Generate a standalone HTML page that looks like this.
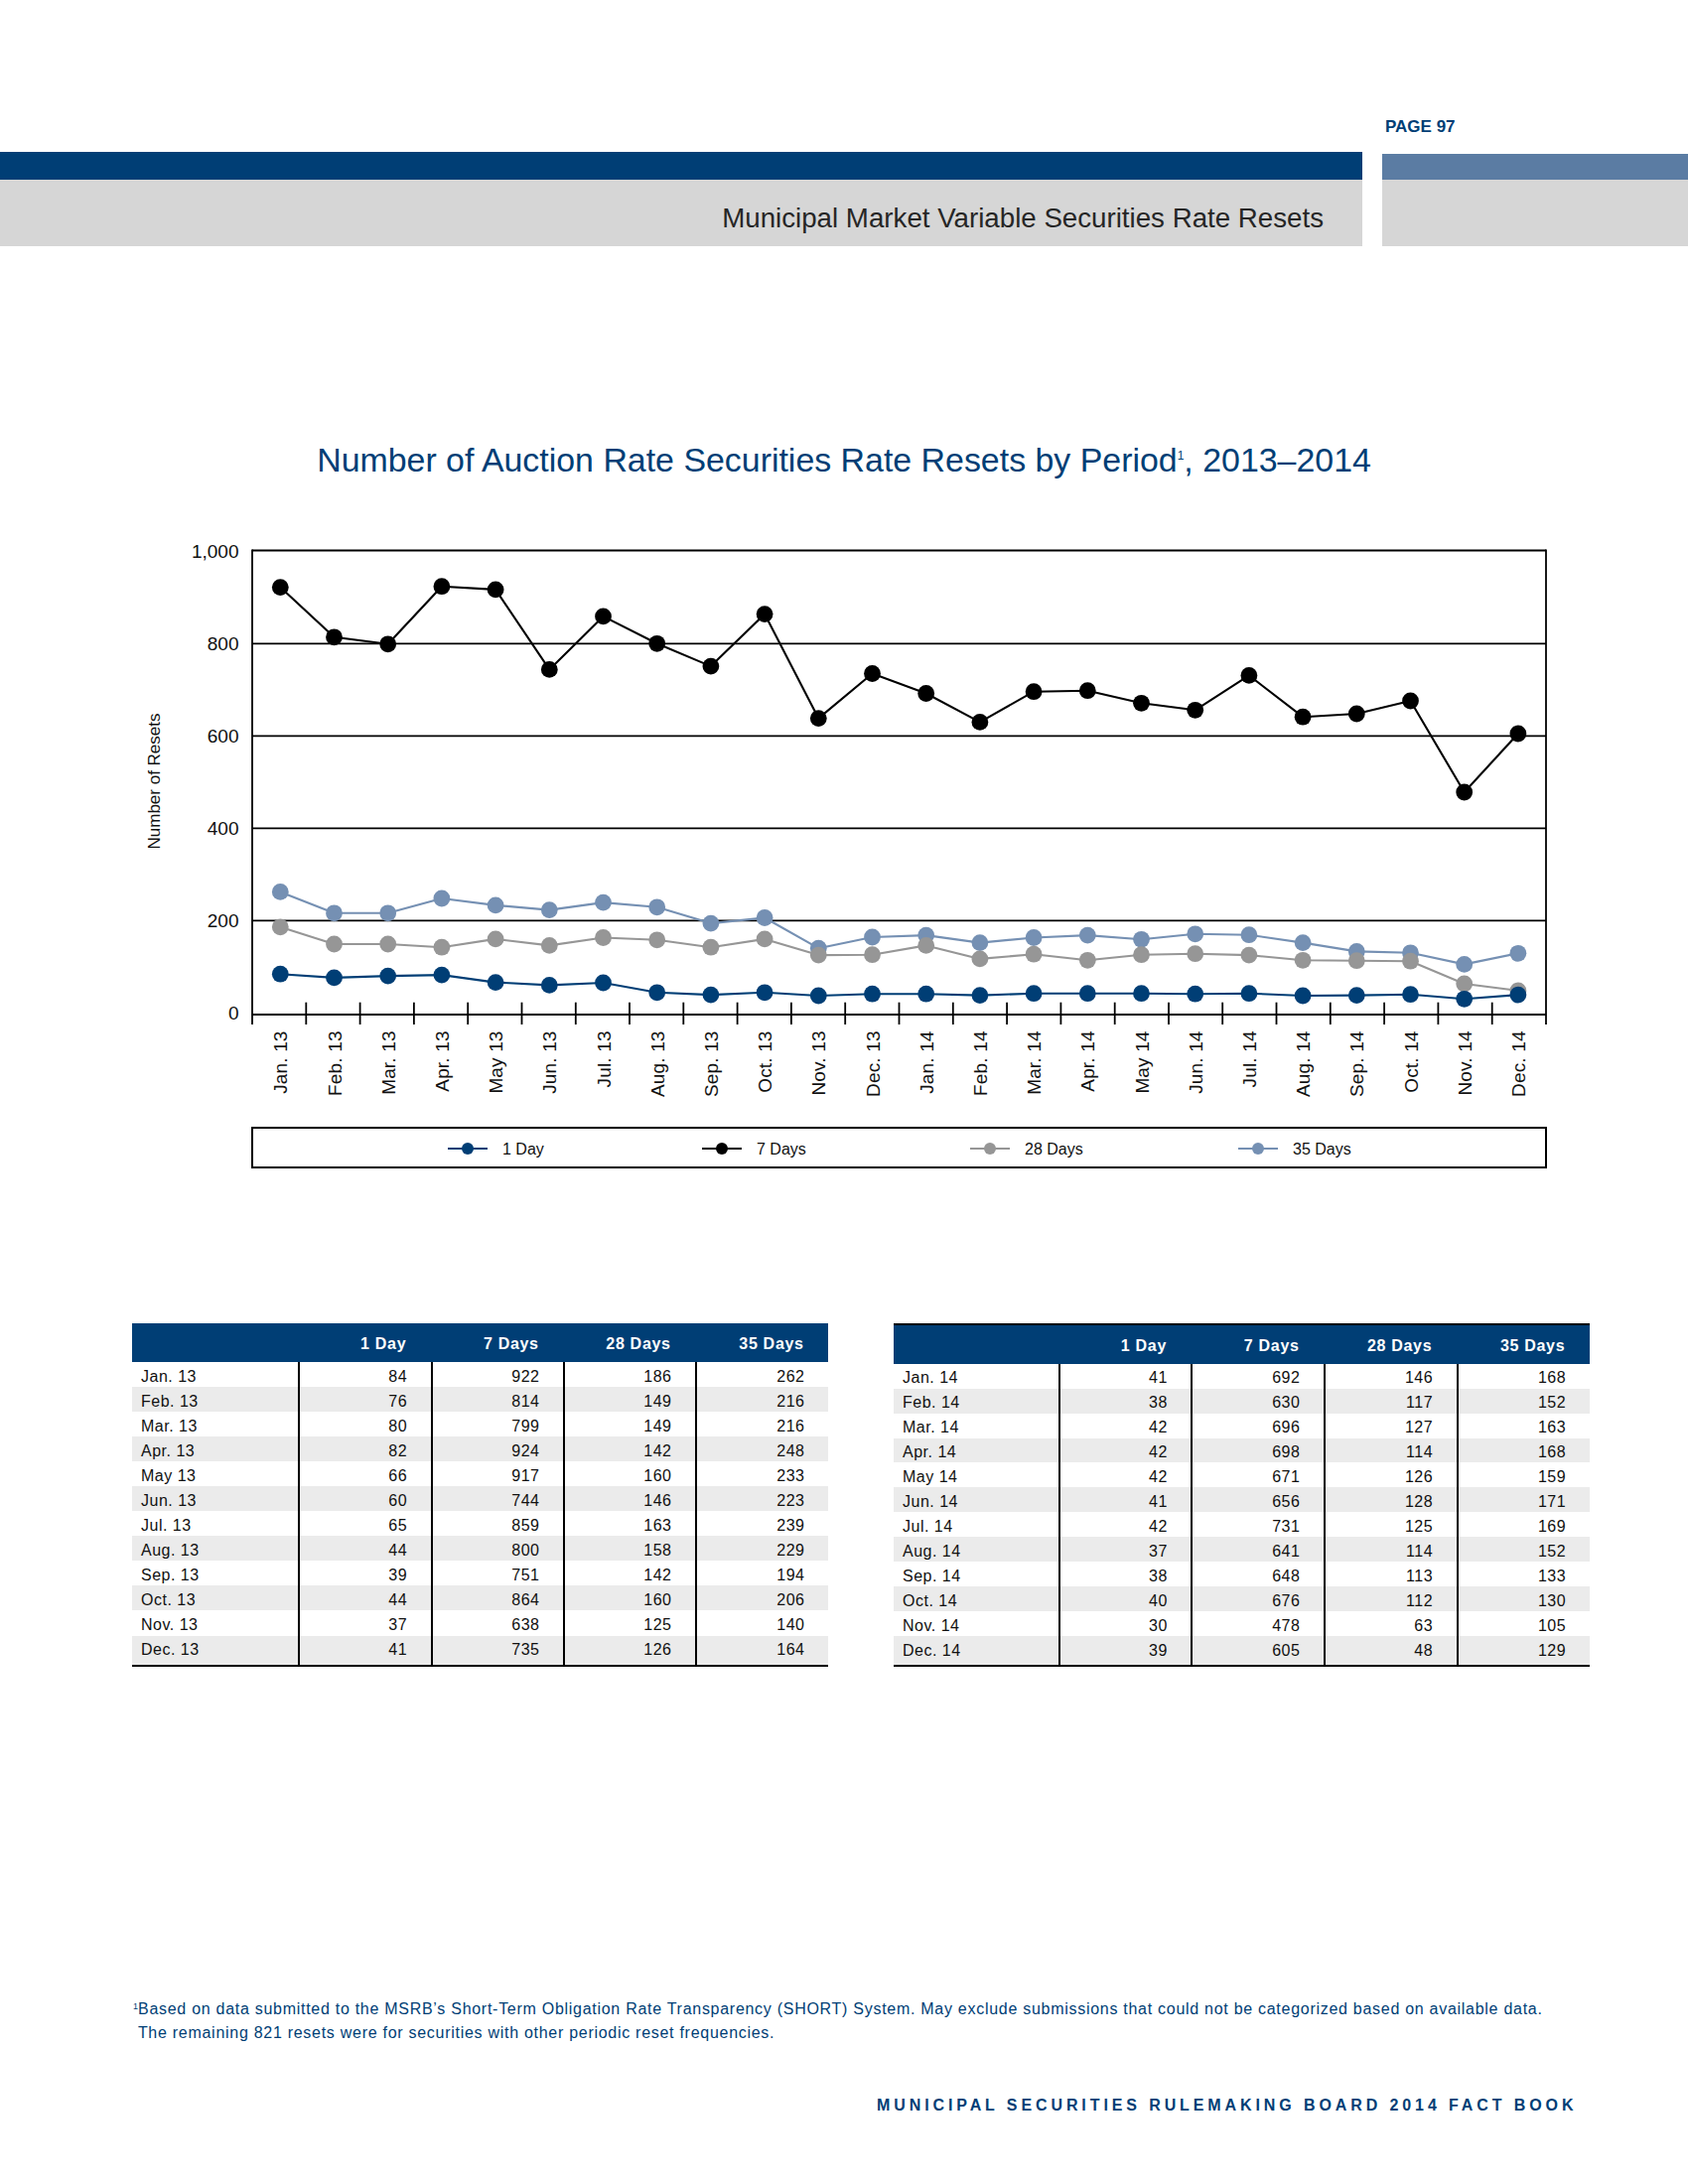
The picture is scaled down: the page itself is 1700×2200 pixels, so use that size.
<!DOCTYPE html>
<html><head><meta charset="utf-8"><style>
html,body{margin:0;padding:0;background:#fff;}
body{width:1700px;height:2200px;position:relative;overflow:hidden;font-family:"Liberation Sans",sans-serif;}
.abs{position:absolute;}
.tbl{position:absolute;width:701px;}
.tbl .hd{height:39px;background:#003e75;color:#fff;font-weight:bold;font-size:16px;display:flex;}
.tbl .hd span{display:block;text-align:right;box-sizing:border-box;padding-right:24.3px;line-height:39px;padding-top:1px;letter-spacing:0.7px;}
.tbl .row{height:25.1px;display:flex;font-size:16px;color:#111;}
.tbl .row.last{height:28.5px;}
.tbl .row.g{background:#ebebeb;}
.tbl .row span{display:block;box-sizing:border-box;text-align:right;padding-right:23.5px;line-height:25.1px;padding-top:1.8px;letter-spacing:0.5px;}
.tbl .row span:nth-child(1){text-align:left;padding-left:9px;padding-right:0;}
.tbl .row span+span{border-left:2px solid #000;}
.tbl .bot{height:2.4px;background:#000;}
</style></head><body>
<div class="abs" style="left:1395px;top:118px;font-size:17px;font-weight:bold;color:#003e75;">PAGE 97</div>
<div class="abs" style="left:0;top:153px;width:1372px;height:28px;background:#003e75;"></div>
<div class="abs" style="left:0;top:181px;width:1372px;height:67px;background:#d6d6d6;"></div>
<div class="abs" style="left:1392px;top:155px;width:308px;height:26px;background:#5b7ca3;"></div>
<div class="abs" style="left:1392px;top:181px;width:308px;height:67px;background:#d6d6d6;"></div>
<div class="abs" style="right:367px;top:201.5px;font-size:27.7px;color:#262626;line-height:36px;">Municipal Market Variable Securities Rate Resets</div>
<div class="abs" style="left:0;width:1700px;text-align:center;top:443px;font-size:33.9px;color:#003e75;line-height:40px;">Number of Auction Rate Securities Rate Resets by Period<span style="font-size:12px;position:relative;top:-12px;">1</span>, 2013&ndash;2014</div>
<svg width="1700" height="2200" style="position:absolute;left:0;top:0"><line x1="254" y1="927.3" x2="1557" y2="927.3" stroke="#000" stroke-width="1.8"/><line x1="254" y1="834.3" x2="1557" y2="834.3" stroke="#000" stroke-width="1.8"/><line x1="254" y1="741.3" x2="1557" y2="741.3" stroke="#000" stroke-width="1.8"/><line x1="254" y1="648.3" x2="1557" y2="648.3" stroke="#000" stroke-width="1.8"/><line x1="254" y1="554.5" x2="1557" y2="554.5" stroke="#000" stroke-width="1.8"/><line x1="254" y1="553.6" x2="254" y2="1032" stroke="#000" stroke-width="1.8"/><line x1="1557" y1="553.6" x2="1557" y2="1032" stroke="#000" stroke-width="1.8"/><line x1="254" y1="1022" x2="1557" y2="1022" stroke="#000" stroke-width="2"/><line x1="308.3" y1="1009.7" x2="308.3" y2="1032" stroke="#000" stroke-width="1.8"/><line x1="362.6" y1="1009.7" x2="362.6" y2="1032" stroke="#000" stroke-width="1.8"/><line x1="416.9" y1="1009.7" x2="416.9" y2="1032" stroke="#000" stroke-width="1.8"/><line x1="471.2" y1="1009.7" x2="471.2" y2="1032" stroke="#000" stroke-width="1.8"/><line x1="525.5" y1="1009.7" x2="525.5" y2="1032" stroke="#000" stroke-width="1.8"/><line x1="579.8" y1="1009.7" x2="579.8" y2="1032" stroke="#000" stroke-width="1.8"/><line x1="634.0" y1="1009.7" x2="634.0" y2="1032" stroke="#000" stroke-width="1.8"/><line x1="688.3" y1="1009.7" x2="688.3" y2="1032" stroke="#000" stroke-width="1.8"/><line x1="742.6" y1="1009.7" x2="742.6" y2="1032" stroke="#000" stroke-width="1.8"/><line x1="796.9" y1="1009.7" x2="796.9" y2="1032" stroke="#000" stroke-width="1.8"/><line x1="851.2" y1="1009.7" x2="851.2" y2="1032" stroke="#000" stroke-width="1.8"/><line x1="905.5" y1="1009.7" x2="905.5" y2="1032" stroke="#000" stroke-width="1.8"/><line x1="959.8" y1="1009.7" x2="959.8" y2="1032" stroke="#000" stroke-width="1.8"/><line x1="1014.1" y1="1009.7" x2="1014.1" y2="1032" stroke="#000" stroke-width="1.8"/><line x1="1068.4" y1="1009.7" x2="1068.4" y2="1032" stroke="#000" stroke-width="1.8"/><line x1="1122.7" y1="1009.7" x2="1122.7" y2="1032" stroke="#000" stroke-width="1.8"/><line x1="1177.0" y1="1009.7" x2="1177.0" y2="1032" stroke="#000" stroke-width="1.8"/><line x1="1231.2" y1="1009.7" x2="1231.2" y2="1032" stroke="#000" stroke-width="1.8"/><line x1="1285.5" y1="1009.7" x2="1285.5" y2="1032" stroke="#000" stroke-width="1.8"/><line x1="1339.8" y1="1009.7" x2="1339.8" y2="1032" stroke="#000" stroke-width="1.8"/><line x1="1394.1" y1="1009.7" x2="1394.1" y2="1032" stroke="#000" stroke-width="1.8"/><line x1="1448.4" y1="1009.7" x2="1448.4" y2="1032" stroke="#000" stroke-width="1.8"/><line x1="1502.7" y1="1009.7" x2="1502.7" y2="1032" stroke="#000" stroke-width="1.8"/><polyline points="282.3,591.6 336.5,641.8 390.7,648.8 444.9,590.7 499.1,593.9 553.3,674.4 607.5,620.9 661.7,648.3 715.9,671.1 770.1,618.6 824.3,723.6 878.5,678.5 932.7,698.5 986.9,727.4 1041.1,696.7 1095.3,695.7 1149.5,708.3 1203.7,715.3 1257.9,680.4 1312.1,722.2 1366.3,719.0 1420.5,706.0 1474.7,798.0 1528.9,739.0" fill="none" stroke="#000000" stroke-width="2.1" stroke-linejoin="round"/><circle cx="282.3" cy="591.6" r="8.4" fill="#000000"/><circle cx="336.5" cy="641.8" r="8.4" fill="#000000"/><circle cx="390.7" cy="648.8" r="8.4" fill="#000000"/><circle cx="444.9" cy="590.7" r="8.4" fill="#000000"/><circle cx="499.1" cy="593.9" r="8.4" fill="#000000"/><circle cx="553.3" cy="674.4" r="8.4" fill="#000000"/><circle cx="607.5" cy="620.9" r="8.4" fill="#000000"/><circle cx="661.7" cy="648.3" r="8.4" fill="#000000"/><circle cx="715.9" cy="671.1" r="8.4" fill="#000000"/><circle cx="770.1" cy="618.6" r="8.4" fill="#000000"/><circle cx="824.3" cy="723.6" r="8.4" fill="#000000"/><circle cx="878.5" cy="678.5" r="8.4" fill="#000000"/><circle cx="932.7" cy="698.5" r="8.4" fill="#000000"/><circle cx="986.9" cy="727.4" r="8.4" fill="#000000"/><circle cx="1041.1" cy="696.7" r="8.4" fill="#000000"/><circle cx="1095.3" cy="695.7" r="8.4" fill="#000000"/><circle cx="1149.5" cy="708.3" r="8.4" fill="#000000"/><circle cx="1203.7" cy="715.3" r="8.4" fill="#000000"/><circle cx="1257.9" cy="680.4" r="8.4" fill="#000000"/><circle cx="1312.1" cy="722.2" r="8.4" fill="#000000"/><circle cx="1366.3" cy="719.0" r="8.4" fill="#000000"/><circle cx="1420.5" cy="706.0" r="8.4" fill="#000000"/><circle cx="1474.7" cy="798.0" r="8.4" fill="#000000"/><circle cx="1528.9" cy="739.0" r="8.4" fill="#000000"/><polyline points="282.3,898.4 336.5,919.8 390.7,919.8 444.9,905.0 499.1,911.9 553.3,916.6 607.5,909.1 661.7,913.8 715.9,930.1 770.1,924.5 824.3,955.2 878.5,944.0 932.7,942.1 986.9,949.6 1041.1,944.5 1095.3,942.1 1149.5,946.3 1203.7,940.8 1257.9,941.7 1312.1,949.6 1366.3,958.4 1420.5,959.8 1474.7,971.4 1528.9,960.3" fill="none" stroke="#7590b3" stroke-width="2.1" stroke-linejoin="round"/><circle cx="282.3" cy="898.4" r="8.4" fill="#7590b3"/><circle cx="336.5" cy="919.8" r="8.4" fill="#7590b3"/><circle cx="390.7" cy="919.8" r="8.4" fill="#7590b3"/><circle cx="444.9" cy="905.0" r="8.4" fill="#7590b3"/><circle cx="499.1" cy="911.9" r="8.4" fill="#7590b3"/><circle cx="553.3" cy="916.6" r="8.4" fill="#7590b3"/><circle cx="607.5" cy="909.1" r="8.4" fill="#7590b3"/><circle cx="661.7" cy="913.8" r="8.4" fill="#7590b3"/><circle cx="715.9" cy="930.1" r="8.4" fill="#7590b3"/><circle cx="770.1" cy="924.5" r="8.4" fill="#7590b3"/><circle cx="824.3" cy="955.2" r="8.4" fill="#7590b3"/><circle cx="878.5" cy="944.0" r="8.4" fill="#7590b3"/><circle cx="932.7" cy="942.1" r="8.4" fill="#7590b3"/><circle cx="986.9" cy="949.6" r="8.4" fill="#7590b3"/><circle cx="1041.1" cy="944.5" r="8.4" fill="#7590b3"/><circle cx="1095.3" cy="942.1" r="8.4" fill="#7590b3"/><circle cx="1149.5" cy="946.3" r="8.4" fill="#7590b3"/><circle cx="1203.7" cy="940.8" r="8.4" fill="#7590b3"/><circle cx="1257.9" cy="941.7" r="8.4" fill="#7590b3"/><circle cx="1312.1" cy="949.6" r="8.4" fill="#7590b3"/><circle cx="1366.3" cy="958.4" r="8.4" fill="#7590b3"/><circle cx="1420.5" cy="959.8" r="8.4" fill="#7590b3"/><circle cx="1474.7" cy="971.4" r="8.4" fill="#7590b3"/><circle cx="1528.9" cy="960.3" r="8.4" fill="#7590b3"/><polyline points="282.3,933.8 336.5,951.0 390.7,951.0 444.9,954.2 499.1,945.9 553.3,952.4 607.5,944.5 661.7,946.8 715.9,954.2 770.1,945.9 824.3,962.1 878.5,961.7 932.7,952.4 986.9,965.9 1041.1,961.2 1095.3,967.3 1149.5,961.7 1203.7,960.7 1257.9,962.1 1312.1,967.3 1366.3,967.7 1420.5,968.2 1474.7,991.0 1528.9,997.9" fill="none" stroke="#969696" stroke-width="2.1" stroke-linejoin="round"/><circle cx="282.3" cy="933.8" r="8.4" fill="#969696"/><circle cx="336.5" cy="951.0" r="8.4" fill="#969696"/><circle cx="390.7" cy="951.0" r="8.4" fill="#969696"/><circle cx="444.9" cy="954.2" r="8.4" fill="#969696"/><circle cx="499.1" cy="945.9" r="8.4" fill="#969696"/><circle cx="553.3" cy="952.4" r="8.4" fill="#969696"/><circle cx="607.5" cy="944.5" r="8.4" fill="#969696"/><circle cx="661.7" cy="946.8" r="8.4" fill="#969696"/><circle cx="715.9" cy="954.2" r="8.4" fill="#969696"/><circle cx="770.1" cy="945.9" r="8.4" fill="#969696"/><circle cx="824.3" cy="962.1" r="8.4" fill="#969696"/><circle cx="878.5" cy="961.7" r="8.4" fill="#969696"/><circle cx="932.7" cy="952.4" r="8.4" fill="#969696"/><circle cx="986.9" cy="965.9" r="8.4" fill="#969696"/><circle cx="1041.1" cy="961.2" r="8.4" fill="#969696"/><circle cx="1095.3" cy="967.3" r="8.4" fill="#969696"/><circle cx="1149.5" cy="961.7" r="8.4" fill="#969696"/><circle cx="1203.7" cy="960.7" r="8.4" fill="#969696"/><circle cx="1257.9" cy="962.1" r="8.4" fill="#969696"/><circle cx="1312.1" cy="967.3" r="8.4" fill="#969696"/><circle cx="1366.3" cy="967.7" r="8.4" fill="#969696"/><circle cx="1420.5" cy="968.2" r="8.4" fill="#969696"/><circle cx="1474.7" cy="991.0" r="8.4" fill="#969696"/><circle cx="1528.9" cy="997.9" r="8.4" fill="#969696"/><polyline points="282.3,981.2 336.5,984.9 390.7,983.1 444.9,982.1 499.1,989.6 553.3,992.4 607.5,990.0 661.7,999.8 715.9,1002.1 770.1,999.8 824.3,1003.0 878.5,1001.2 932.7,1001.2 986.9,1002.6 1041.1,1000.7 1095.3,1000.7 1149.5,1000.7 1203.7,1001.2 1257.9,1000.7 1312.1,1003.0 1366.3,1002.6 1420.5,1001.7 1474.7,1006.3 1528.9,1002.1" fill="none" stroke="#003e75" stroke-width="2.1" stroke-linejoin="round"/><circle cx="282.3" cy="981.2" r="8.4" fill="#003e75"/><circle cx="336.5" cy="984.9" r="8.4" fill="#003e75"/><circle cx="390.7" cy="983.1" r="8.4" fill="#003e75"/><circle cx="444.9" cy="982.1" r="8.4" fill="#003e75"/><circle cx="499.1" cy="989.6" r="8.4" fill="#003e75"/><circle cx="553.3" cy="992.4" r="8.4" fill="#003e75"/><circle cx="607.5" cy="990.0" r="8.4" fill="#003e75"/><circle cx="661.7" cy="999.8" r="8.4" fill="#003e75"/><circle cx="715.9" cy="1002.1" r="8.4" fill="#003e75"/><circle cx="770.1" cy="999.8" r="8.4" fill="#003e75"/><circle cx="824.3" cy="1003.0" r="8.4" fill="#003e75"/><circle cx="878.5" cy="1001.2" r="8.4" fill="#003e75"/><circle cx="932.7" cy="1001.2" r="8.4" fill="#003e75"/><circle cx="986.9" cy="1002.6" r="8.4" fill="#003e75"/><circle cx="1041.1" cy="1000.7" r="8.4" fill="#003e75"/><circle cx="1095.3" cy="1000.7" r="8.4" fill="#003e75"/><circle cx="1149.5" cy="1000.7" r="8.4" fill="#003e75"/><circle cx="1203.7" cy="1001.2" r="8.4" fill="#003e75"/><circle cx="1257.9" cy="1000.7" r="8.4" fill="#003e75"/><circle cx="1312.1" cy="1003.0" r="8.4" fill="#003e75"/><circle cx="1366.3" cy="1002.6" r="8.4" fill="#003e75"/><circle cx="1420.5" cy="1001.7" r="8.4" fill="#003e75"/><circle cx="1474.7" cy="1006.3" r="8.4" fill="#003e75"/><circle cx="1528.9" cy="1002.1" r="8.4" fill="#003e75"/><text x="240.5" y="1027.2" text-anchor="end" font-family="Liberation Sans" font-size="19" fill="#111">0</text><text x="240.5" y="934.3" text-anchor="end" font-family="Liberation Sans" font-size="19" fill="#111">200</text><text x="240.5" y="841.3" text-anchor="end" font-family="Liberation Sans" font-size="19" fill="#111">400</text><text x="240.5" y="748.3" text-anchor="end" font-family="Liberation Sans" font-size="19" fill="#111">600</text><text x="240.5" y="655.3" text-anchor="end" font-family="Liberation Sans" font-size="19" fill="#111">800</text><text x="240.5" y="562.4" text-anchor="end" font-family="Liberation Sans" font-size="19" fill="#111">1,000</text><text transform="translate(161,787) rotate(-90)" text-anchor="middle" font-family="Liberation Sans" font-size="17" fill="#111">Number of Resets</text><text transform="translate(289.3,1038.4) rotate(-90)" text-anchor="end" font-family="Liberation Sans" font-size="19" letter-spacing="0.15" fill="#111">Jan. 13</text><text transform="translate(343.5,1038.4) rotate(-90)" text-anchor="end" font-family="Liberation Sans" font-size="19" letter-spacing="0.15" fill="#111">Feb. 13</text><text transform="translate(397.7,1038.4) rotate(-90)" text-anchor="end" font-family="Liberation Sans" font-size="19" letter-spacing="0.15" fill="#111">Mar. 13</text><text transform="translate(451.9,1038.4) rotate(-90)" text-anchor="end" font-family="Liberation Sans" font-size="19" letter-spacing="0.15" fill="#111">Apr. 13</text><text transform="translate(506.1,1038.4) rotate(-90)" text-anchor="end" font-family="Liberation Sans" font-size="19" letter-spacing="0.15" fill="#111">May 13</text><text transform="translate(560.3,1038.4) rotate(-90)" text-anchor="end" font-family="Liberation Sans" font-size="19" letter-spacing="0.15" fill="#111">Jun. 13</text><text transform="translate(614.5,1038.4) rotate(-90)" text-anchor="end" font-family="Liberation Sans" font-size="19" letter-spacing="0.15" fill="#111">Jul. 13</text><text transform="translate(668.7,1038.4) rotate(-90)" text-anchor="end" font-family="Liberation Sans" font-size="19" letter-spacing="0.15" fill="#111">Aug. 13</text><text transform="translate(722.9,1038.4) rotate(-90)" text-anchor="end" font-family="Liberation Sans" font-size="19" letter-spacing="0.15" fill="#111">Sep. 13</text><text transform="translate(777.1,1038.4) rotate(-90)" text-anchor="end" font-family="Liberation Sans" font-size="19" letter-spacing="0.15" fill="#111">Oct. 13</text><text transform="translate(831.3,1038.4) rotate(-90)" text-anchor="end" font-family="Liberation Sans" font-size="19" letter-spacing="0.15" fill="#111">Nov. 13</text><text transform="translate(885.5,1038.4) rotate(-90)" text-anchor="end" font-family="Liberation Sans" font-size="19" letter-spacing="0.15" fill="#111">Dec. 13</text><text transform="translate(939.7,1038.4) rotate(-90)" text-anchor="end" font-family="Liberation Sans" font-size="19" letter-spacing="0.15" fill="#111">Jan. 14</text><text transform="translate(993.9,1038.4) rotate(-90)" text-anchor="end" font-family="Liberation Sans" font-size="19" letter-spacing="0.15" fill="#111">Feb. 14</text><text transform="translate(1048.1,1038.4) rotate(-90)" text-anchor="end" font-family="Liberation Sans" font-size="19" letter-spacing="0.15" fill="#111">Mar. 14</text><text transform="translate(1102.3,1038.4) rotate(-90)" text-anchor="end" font-family="Liberation Sans" font-size="19" letter-spacing="0.15" fill="#111">Apr. 14</text><text transform="translate(1156.5,1038.4) rotate(-90)" text-anchor="end" font-family="Liberation Sans" font-size="19" letter-spacing="0.15" fill="#111">May 14</text><text transform="translate(1210.7,1038.4) rotate(-90)" text-anchor="end" font-family="Liberation Sans" font-size="19" letter-spacing="0.15" fill="#111">Jun. 14</text><text transform="translate(1264.9,1038.4) rotate(-90)" text-anchor="end" font-family="Liberation Sans" font-size="19" letter-spacing="0.15" fill="#111">Jul. 14</text><text transform="translate(1319.1,1038.4) rotate(-90)" text-anchor="end" font-family="Liberation Sans" font-size="19" letter-spacing="0.15" fill="#111">Aug. 14</text><text transform="translate(1373.3,1038.4) rotate(-90)" text-anchor="end" font-family="Liberation Sans" font-size="19" letter-spacing="0.15" fill="#111">Sep. 14</text><text transform="translate(1427.5,1038.4) rotate(-90)" text-anchor="end" font-family="Liberation Sans" font-size="19" letter-spacing="0.15" fill="#111">Oct. 14</text><text transform="translate(1481.7,1038.4) rotate(-90)" text-anchor="end" font-family="Liberation Sans" font-size="19" letter-spacing="0.15" fill="#111">Nov. 14</text><text transform="translate(1535.9,1038.4) rotate(-90)" text-anchor="end" font-family="Liberation Sans" font-size="19" letter-spacing="0.15" fill="#111">Dec. 14</text><rect x="254" y="1136" width="1303" height="40" fill="none" stroke="#000" stroke-width="2"/><line x1="451" y1="1157" x2="491" y2="1157" stroke="#003e75" stroke-width="2.2"/><circle cx="471" cy="1157" r="6" fill="#003e75"/><text x="506" y="1163" font-family="Liberation Sans" font-size="16" fill="#111">1 Day</text><line x1="707" y1="1157" x2="747" y2="1157" stroke="#000000" stroke-width="2.2"/><circle cx="727" cy="1157" r="6" fill="#000000"/><text x="762" y="1163" font-family="Liberation Sans" font-size="16" fill="#111">7 Days</text><line x1="977" y1="1157" x2="1017" y2="1157" stroke="#969696" stroke-width="2.2"/><circle cx="997" cy="1157" r="6" fill="#969696"/><text x="1032" y="1163" font-family="Liberation Sans" font-size="16" fill="#111">28 Days</text><line x1="1247" y1="1157" x2="1287" y2="1157" stroke="#7590b3" stroke-width="2.2"/><circle cx="1267" cy="1157" r="6" fill="#7590b3"/><text x="1302" y="1163" font-family="Liberation Sans" font-size="16" fill="#111">35 Days</text></svg>
<div class="tbl" style="left:133px;top:1333px;width:701.0px">
<div class="hd"><span style="width:166.6px"></span><span style="width:134px">1 Day</span><span style="width:133.4px">7 Days</span><span style="width:133px">28 Days</span><span style="width:134px">35 Days</span></div>
<div class="row" style="height:25.05px"><span style="width:166.6px">Jan. 13</span><span style="width:134px">84</span><span style="width:133.4px">922</span><span style="width:133px">186</span><span style="width:134px">262</span></div>
<div class="row g" style="height:25.05px"><span style="width:166.6px">Feb. 13</span><span style="width:134px">76</span><span style="width:133.4px">814</span><span style="width:133px">149</span><span style="width:134px">216</span></div>
<div class="row" style="height:25.05px"><span style="width:166.6px">Mar. 13</span><span style="width:134px">80</span><span style="width:133.4px">799</span><span style="width:133px">149</span><span style="width:134px">216</span></div>
<div class="row g" style="height:25.05px"><span style="width:166.6px">Apr. 13</span><span style="width:134px">82</span><span style="width:133.4px">924</span><span style="width:133px">142</span><span style="width:134px">248</span></div>
<div class="row" style="height:25.05px"><span style="width:166.6px">May 13</span><span style="width:134px">66</span><span style="width:133.4px">917</span><span style="width:133px">160</span><span style="width:134px">233</span></div>
<div class="row g" style="height:25.05px"><span style="width:166.6px">Jun. 13</span><span style="width:134px">60</span><span style="width:133.4px">744</span><span style="width:133px">146</span><span style="width:134px">223</span></div>
<div class="row" style="height:25.05px"><span style="width:166.6px">Jul. 13</span><span style="width:134px">65</span><span style="width:133.4px">859</span><span style="width:133px">163</span><span style="width:134px">239</span></div>
<div class="row g" style="height:25.05px"><span style="width:166.6px">Aug. 13</span><span style="width:134px">44</span><span style="width:133.4px">800</span><span style="width:133px">158</span><span style="width:134px">229</span></div>
<div class="row" style="height:25.05px"><span style="width:166.6px">Sep. 13</span><span style="width:134px">39</span><span style="width:133.4px">751</span><span style="width:133px">142</span><span style="width:134px">194</span></div>
<div class="row g" style="height:25.05px"><span style="width:166.6px">Oct. 13</span><span style="width:134px">44</span><span style="width:133.4px">864</span><span style="width:133px">160</span><span style="width:134px">206</span></div>
<div class="row" style="height:25.05px"><span style="width:166.6px">Nov. 13</span><span style="width:134px">37</span><span style="width:133.4px">638</span><span style="width:133px">125</span><span style="width:134px">140</span></div>
<div class="row g last" style="height:29px"><span style="width:166.6px">Dec. 13</span><span style="width:134px">41</span><span style="width:133.4px">735</span><span style="width:133px">126</span><span style="width:134px">164</span></div>
<div class="bot"></div>
</div>
<div class="tbl" style="left:900px;top:1333.2px;width:700.6px">
<div class="hd" style="border-top:2px solid #000;height:38.5px;line-height:38.5px"><span style="width:165.5px"></span><span style="width:133.8px">1 Day</span><span style="width:133.6px">7 Days</span><span style="width:133.7px">28 Days</span><span style="width:134px">35 Days</span></div>
<div class="row" style="height:24.95px"><span style="width:165.5px">Jan. 14</span><span style="width:133.8px">41</span><span style="width:133.6px">692</span><span style="width:133.7px">146</span><span style="width:134px">168</span></div>
<div class="row g" style="height:24.95px"><span style="width:165.5px">Feb. 14</span><span style="width:133.8px">38</span><span style="width:133.6px">630</span><span style="width:133.7px">117</span><span style="width:134px">152</span></div>
<div class="row" style="height:24.95px"><span style="width:165.5px">Mar. 14</span><span style="width:133.8px">42</span><span style="width:133.6px">696</span><span style="width:133.7px">127</span><span style="width:134px">163</span></div>
<div class="row g" style="height:24.95px"><span style="width:165.5px">Apr. 14</span><span style="width:133.8px">42</span><span style="width:133.6px">698</span><span style="width:133.7px">114</span><span style="width:134px">168</span></div>
<div class="row" style="height:24.95px"><span style="width:165.5px">May 14</span><span style="width:133.8px">42</span><span style="width:133.6px">671</span><span style="width:133.7px">126</span><span style="width:134px">159</span></div>
<div class="row g" style="height:24.95px"><span style="width:165.5px">Jun. 14</span><span style="width:133.8px">41</span><span style="width:133.6px">656</span><span style="width:133.7px">128</span><span style="width:134px">171</span></div>
<div class="row" style="height:24.95px"><span style="width:165.5px">Jul. 14</span><span style="width:133.8px">42</span><span style="width:133.6px">731</span><span style="width:133.7px">125</span><span style="width:134px">169</span></div>
<div class="row g" style="height:24.95px"><span style="width:165.5px">Aug. 14</span><span style="width:133.8px">37</span><span style="width:133.6px">641</span><span style="width:133.7px">114</span><span style="width:134px">152</span></div>
<div class="row" style="height:24.95px"><span style="width:165.5px">Sep. 14</span><span style="width:133.8px">38</span><span style="width:133.6px">648</span><span style="width:133.7px">113</span><span style="width:134px">133</span></div>
<div class="row g" style="height:24.95px"><span style="width:165.5px">Oct. 14</span><span style="width:133.8px">40</span><span style="width:133.6px">676</span><span style="width:133.7px">112</span><span style="width:134px">130</span></div>
<div class="row" style="height:24.95px"><span style="width:165.5px">Nov. 14</span><span style="width:133.8px">30</span><span style="width:133.6px">478</span><span style="width:133.7px">63</span><span style="width:134px">105</span></div>
<div class="row g last" style="height:29px"><span style="width:165.5px">Dec. 14</span><span style="width:133.8px">39</span><span style="width:133.6px">605</span><span style="width:133.7px">48</span><span style="width:134px">129</span></div>
<div class="bot"></div>
</div>
<div class="abs" style="left:134px;top:2013px;font-size:16px;line-height:22px;letter-spacing:0.72px;color:#003e75;white-space:pre;"><span style="font-size:9px;position:relative;top:-5px;letter-spacing:0">1</span>Based on data submitted to the MSRB&rsquo;s Short-Term Obligation Rate Transparency (SHORT) System. May exclude submissions that could not be categorized based on available data.
 The remaining 821 resets were for securities with other periodic reset frequencies.</div>
<div class="abs" style="left:883px;top:2112px;font-size:16px;font-weight:bold;letter-spacing:3.9px;color:#003e75;white-space:nowrap;">MUNICIPAL SECURITIES RULEMAKING BOARD 2014 FACT BOOK</div>
</body></html>
